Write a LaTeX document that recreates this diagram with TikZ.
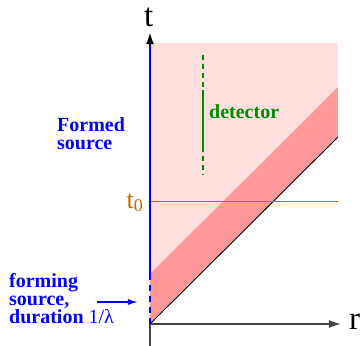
\documentclass[tikz,border=0pt]{standalone}
\usepackage{fontspec}
\setmainfont{Liberation Serif}
\usetikzlibrary{arrows.meta}
\definecolor{lpink}{RGB}{255,222,222}
\definecolor{dpink}{RGB}{255,153,153}
\definecolor{myblue}{RGB}{0,0,255}
\definecolor{mygreen}{RGB}{0,140,0}
\definecolor{myorange}{RGB}{204,102,0}
\definecolor{axisgrey}{RGB}{70,70,70}
\tikzset{
  axisline/.style={draw=axisgrey, line width=1.4pt},
  axistip/.style={-{Latex[length=12pt,width=8pt]}},
  bluelabel/.style={text=myblue, font=\fontsize{20}{18}\selectfont\bfseries, align=left, inner sep=0pt, anchor=north west},
  axislabel/.style={font=\fontsize{33}{33}\selectfont, inner sep=0pt, anchor=base west},
}
\begin{document}
\begin{tikzpicture}[x=1pt,y=-1pt]
\useasboundingbox (0,0) rectangle (360,346);
% coordinates
\coordinate (O) at (150,324);
\coordinate (TL) at (150,43);
\coordinate (TR) at (338,43);
\coordinate (DR) at (338,137);
\coordinate (BR) at (338,87);
\coordinate (BL) at (150,274);
% regions
\fill[lpink] (O) -- (TL) -- (TR) -- (DR) -- cycle;
\fill[dpink] (O) -- (BL) -- (BR) -- (DR) -- cycle;
\draw[black, line width=0.9pt] (O) -- (DR);
% t0 line
\coordinate (T0a) at (150,201);
\coordinate (T0b) at (338,201);
\draw[myorange, line width=0.8pt] (T0a) -- (T0b);
\node[text=myorange, font=\fontsize{26}{26}\selectfont, inner sep=0pt, anchor=base east] (t0) at (143,208) {t\raisebox{-3pt}{\fontsize{18}{18}\selectfont 0}};
% axes
\coordinate (Vbot) at (150,346);
\coordinate (Vtop) at (150,32);
\coordinate (Hend) at (341,324);
\draw[axisline] (Vbot) -- (O);
\draw[axisline, axistip] (O) -- (Hend);
\draw[myblue, line width=2.2pt] (BL) -- (150,44);
\draw[myblue, line width=2.2pt, dash pattern=on 6pt off 5pt] (O) -- (BL);
\draw[draw=myblue, line width=2.2pt, -{Latex[length=12pt,width=8pt,fill=black,color=black]}] (150,46) -- (Vtop);
\node[axislabel] (tlab) at (144,26) {t};
\node[axislabel] (rlab) at (349,329) {r};
% detector
\coordinate (Da) at (203,55);
\coordinate (Db) at (203,90);
\coordinate (Dc) at (203,147);
\coordinate (Dd) at (203,175);
\draw[mygreen, line width=2pt, dash pattern=on 5pt off 4pt] (Da) -- (Db);
\draw[mygreen, line width=2pt] (Db) -- (Dc);
\draw[mygreen, line width=2pt, dash pattern=on 5pt off 4pt] (Dc) -- (Dd);
\node[text=mygreen, font=\fontsize{20}{20}\selectfont\bfseries, inner sep=0pt, anchor=base west] (det) at (209,118) {detector};
% labels
\node[bluelabel] (formed) at (57,117.5) {Formed\\source};
\node[bluelabel] (forming) at (9,273) {forming\\source,\\duration {\mdseries 1/λ}};
\coordinate (Aa) at (97,302);
\coordinate (Ab) at (138,302);
\draw[myblue, line width=1.4pt, -{Latex[length=10pt,width=6pt]}] (Aa) -- (Ab);
\end{tikzpicture}
\end{document}
